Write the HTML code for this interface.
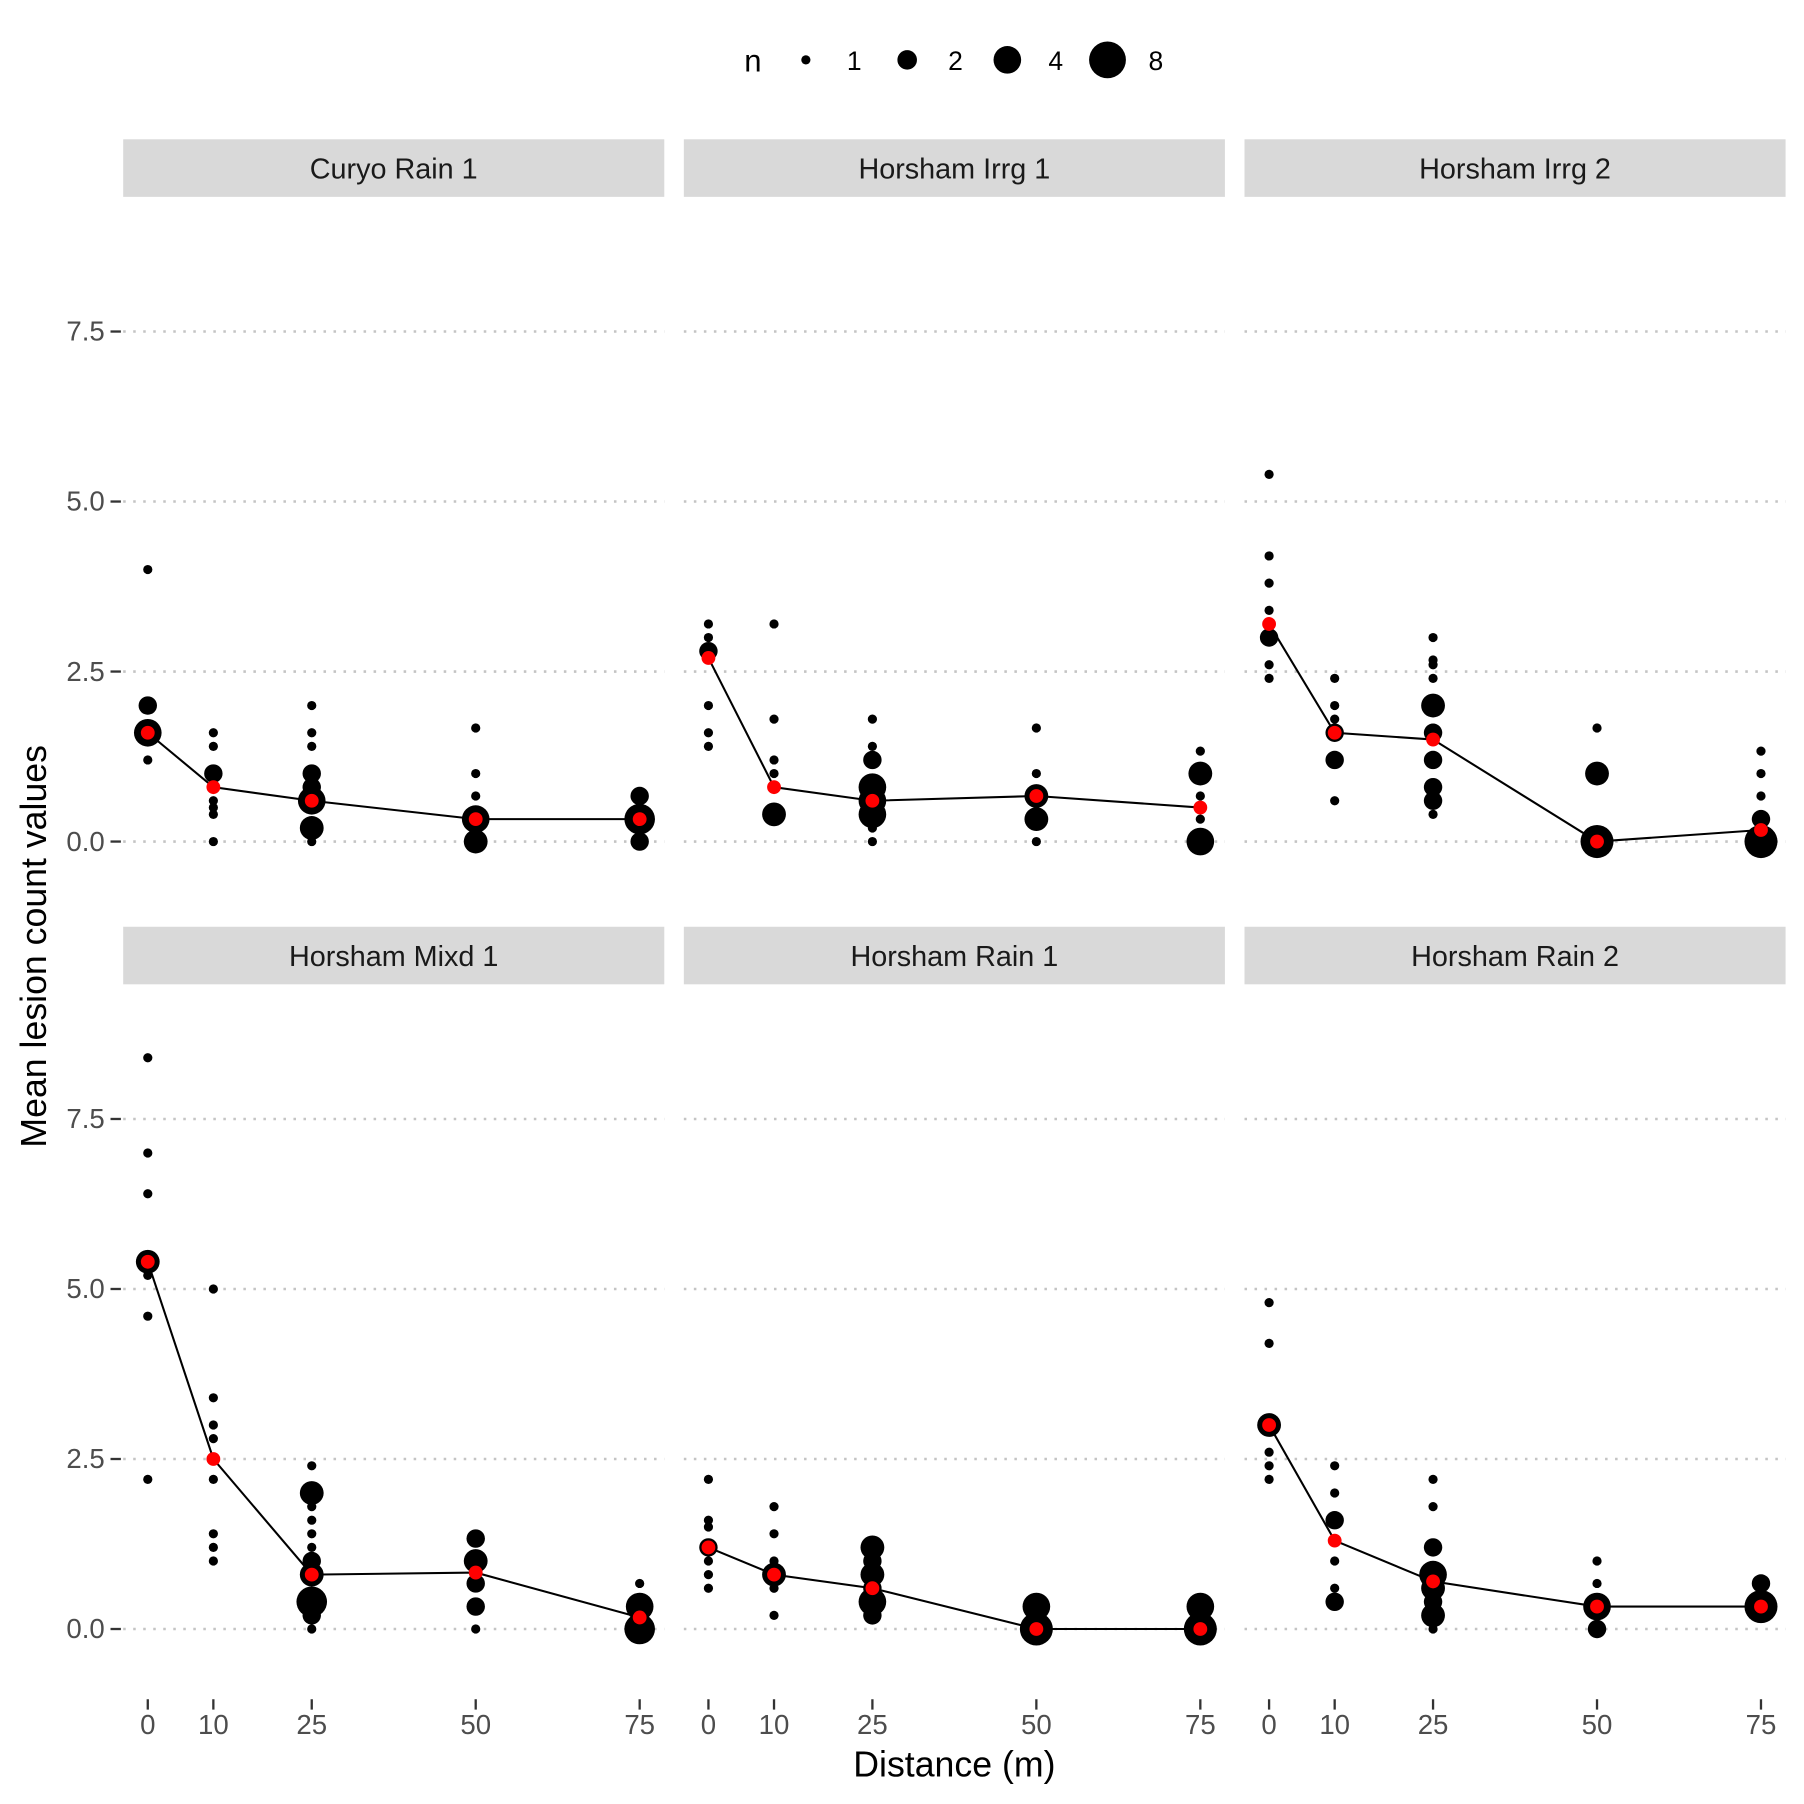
<!DOCTYPE html>
<html><head><meta charset="utf-8"><style>
html,body{margin:0;padding:0;background:#fff}
svg{display:block;font-family:"Liberation Sans",sans-serif}
</style></head><body>
<svg id="chart" width="1804" height="1804" viewBox="0 0 1567 1567" xmlns="http://www.w3.org/2000/svg">
<g>
<text x="654" y="62" font-size="27" text-anchor="middle" fill="#000">n</text>
<circle cx="700" cy="52" r="4" fill="#000"/><text x="742" y="61" font-size="23" text-anchor="middle">1</text>
<circle cx="788" cy="52" r="8.5" fill="#000"/><text x="830" y="61" font-size="23" text-anchor="middle">2</text>
<circle cx="875" cy="52" r="12" fill="#000"/><text x="917" y="61" font-size="23" text-anchor="middle">4</text>
<circle cx="962" cy="52" r="16" fill="#000"/><text x="1004" y="61" font-size="23" text-anchor="middle">8</text>
</g>
<text transform="translate(40,822) rotate(-90)" font-size="31" text-anchor="middle" fill="#000">Mean lesion count values</text>
<text x="829" y="1543" font-size="31" text-anchor="middle" fill="#000">Distance (m)</text>
<g id="panels"></g>
</svg>
<script>
const panelNames = ["Curyo Rain 1","Horsham Irrg 1","Horsham Irrg 2","Horsham Mixd 1","Horsham Rain 1","Horsham Rain 2"];
const distances = [0,10,25,50,75];
const yTicks = [0,2.5,5,7.5];
const yTickLabels = ["0.0","2.5","5.0","7.5"];
// points per panel: [distance, value, n]
const pts0 = [[0,4,1],[0,2,2],[0,1.6,4],[0,1.2,1],[10,1.6,1],[10,1.4,1],[10,1,2],[10,0.6,1],[10,0.5,1],[10,0.4,1],[10,0,1],[25,2,1],[25,1.6,1],[25,1.4,1],[25,1,2],[25,0.8,2],[25,0.6,4],[25,0.2,3],[25,0,1],[50,1.67,1],[50,1,1],[50,0.67,1],[50,0.33,4],[50,0,3],[75,0.67,2],[75,0.33,5],[75,0,2]];
const pts1 = [[0,3.2,1],[0,3,1],[0,2.8,2],[0,2,1],[0,1.6,1],[0,1.4,1],[10,3.2,1],[10,1.8,1],[10,1.2,1],[10,1,1],[10,0.4,3],[25,1.8,1],[25,1.4,1],[25,1.2,2],[25,0.8,4],[25,0.6,4],[25,0.4,4],[25,0.2,1],[25,0,1],[50,1.67,1],[50,1,1],[50,0.67,3],[50,0.33,3],[50,0,1],[75,1.33,1],[75,1,3],[75,0.67,1],[75,0.33,1],[75,0,4]];
const pts2 = [[0,5.4,1],[0,4.2,1],[0,3.8,1],[0,3.4,1],[0,3,2],[0,2.6,1],[0,2.4,1],[10,2.4,1],[10,2,1],[10,1.8,1],[10,1.6,2],[10,1.2,2],[10,0.6,1],[25,3,1],[25,2.67,1],[25,2.6,1],[25,2.4,1],[25,2,3],[25,1.6,2],[25,1.2,2],[25,0.8,2],[25,0.6,2],[25,0.4,1],[50,1.67,1],[50,1,3],[50,0,6],[75,1.33,1],[75,1,1],[75,0.67,1],[75,0.33,2],[75,0,6]];
const pts3 = [[0,8.4,1],[0,7,1],[0,6.4,1],[0,5.4,3],[0,5.2,1],[0,4.6,1],[0,2.2,1],[10,5,1],[10,3.4,1],[10,3,1],[10,2.8,1],[10,2.2,1],[10,1.4,1],[10,1.2,1],[10,1,1],[25,2.4,1],[25,2,3],[25,1.8,1],[25,1.6,1],[25,1.4,1],[25,1.2,1],[25,1,2],[25,0.8,3],[25,0.4,5],[25,0.2,2],[25,0,1],[50,1.33,2],[50,1,3],[50,0.67,2],[50,0.33,2],[50,0,1],[75,0.67,1],[75,0.33,4],[75,0,5]];
const pts4 = [[0,2.2,1],[0,1.6,1],[0,1.5,1],[0,1.2,2],[0,1,1],[0,0.8,1],[0,0.6,1],[10,1.8,1],[10,1.4,1],[10,1,1],[10,0.8,3],[10,0.6,1],[10,0.2,1],[25,1.2,3],[25,1,2],[25,0.8,3],[25,0.6,2],[25,0.4,4],[25,0.2,2],[50,0.33,4],[50,0,6],[75,0.33,4],[75,0,6]];
const pts5 = [[0,4.8,1],[0,4.2,1],[0,3,3],[0,2.6,1],[0,2.4,1],[0,2.2,1],[10,2.4,1],[10,2,1],[10,1.6,2],[10,1,1],[10,0.6,1],[10,0.4,2],[25,2.2,1],[25,1.8,1],[25,1.2,2],[25,0.8,4],[25,0.6,3],[25,0.4,2],[25,0.2,3],[25,0,1],[50,1,1],[50,0.67,1],[50,0.33,4],[50,0,2],[75,0.67,2],[75,0.33,6]];
const means0 = [1.6,0.8,0.6,0.33,0.33];
const means1 = [2.7,0.8,0.6,0.67,0.5];
const means2 = [3.2,1.6,1.5,0,0.17];
const means3 = [5.4,2.5,0.8,0.83,0.17];
const means4 = [1.2,0.8,0.6,0,0];
const means5 = [3.0,1.3,0.7,0.33,0.33];
const allPts = [pts0,pts1,pts2,pts3,pts4,pts5];
const allMeans = [means0,means1,means2,means3,means4,means5];

const NS = "http://www.w3.org/2000/svg";
const root = document.getElementById("panels");
const colX = [107,594,1081], PW = 470;
const rowZero = [731,1415], rowStripTop = [121,805];
const PXU = 59.07;
function xs(c,d){ return colX[c] + (d + 3.75) / 82.5 * PW; }
function ys(r,v){ return rowZero[r] - v * PXU; }
function rad(n){ return 4 + 4 * Math.log2(n); }
function mk(tag, attrs, parent){ const e = document.createElementNS(NS, tag); for (const k in attrs) e.setAttribute(k, attrs[k]); parent.appendChild(e); return e; }

for (let p = 0; p < 6; p++) {
  const c = p % 3, r = Math.floor(p / 3);
  const g = mk("g", {}, root);
  
  
  const strip = mk("rect", {x: colX[c], y: rowStripTop[r], width: PW, height: 50, fill: "#d9d9d9"}, g);
  
  
  const st = mk("text", {x: colX[c] + PW/2, y: rowStripTop[r] + 34, "font-size": 25, "text-anchor": "middle", fill: "#1a1a1a"}, g);
  st.textContent = panelNames[p];
  
  
  yTicks.forEach(function(t){
    const gl = mk("line", {x1: colX[c], x2: colX[c] + PW, y1: ys(r,t), y2: ys(r,t), stroke: "#c4c4c4", "stroke-width": 2.2, "stroke-dasharray": "2.2 6.5"}, g);
    
    
  });
  if (c === 0) {
    yTicks.forEach(function(t, i){
      const tk = mk("line", {x1: 96, x2: 105, y1: ys(r,t), y2: ys(r,t), stroke: "#333", "stroke-width": 2}, g);
      
      
      const tl = mk("text", {x: 91, y: ys(r,t) + 8, "font-size": 24, "text-anchor": "end", fill: "#4d4d4d"}, g);
      tl.textContent = yTickLabels[i];
      
      
    });
  }
  if (r === 1) {
    distances.forEach(function(d){
      const tk = mk("line", {x1: xs(c,d), x2: xs(c,d), y1: 1476, y2: 1485, stroke: "#333", "stroke-width": 2}, g);
      
      
      const tl = mk("text", {x: xs(c,d), y: 1506, "font-size": 24, "text-anchor": "middle", fill: "#4d4d4d"}, g);
      tl.textContent = String(d);
      
      
    });
  }
  allPts[p].forEach(function(pt){
    const ci = mk("circle", {cx: xs(c, pt[0]), cy: ys(r, pt[1]), r: rad(pt[2]), fill: "#000"}, g);
    
    
  });
  const m = allMeans[p];
  const d = m.map(function(v, i){ return (i ? "L" : "M") + xs(c, distances[i]) + " " + ys(r, v); }).join(" ");
  const ln = mk("path", {d: d, fill: "none", stroke: "#000", "stroke-width": 1.8}, g);
  
  
  m.forEach(function(v, i){
    const mc = mk("circle", {cx: xs(c, distances[i]), cy: ys(r, v), r: 6, fill: "#ff0000"}, g);
    
    
  });
}
</script>
</body></html>
